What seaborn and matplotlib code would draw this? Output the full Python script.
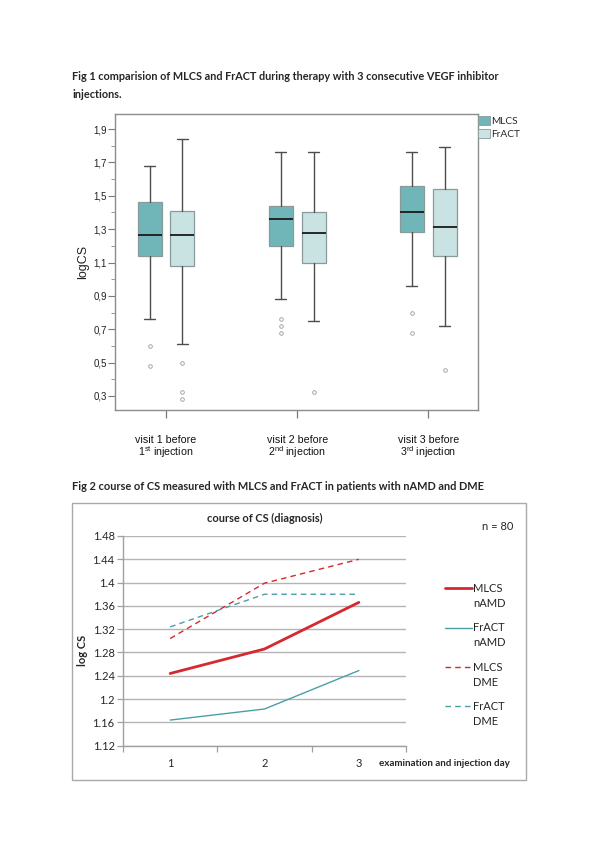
import numpy as np
import pandas as pd
import seaborn as sns
import matplotlib
matplotlib.use("Agg")
import matplotlib.pyplot as plt
from matplotlib.patches import Patch, Rectangle
from matplotlib.lines import Line2D
from matplotlib.legend_handler import HandlerLine2D
from matplotlib.ticker import FixedLocator, MultipleLocator

# ---- Fig 1 data: box statistics ----
visits = ["visit 1 before\n1$^{\\mathrm{st}}$ injection",
          "visit 2 before\n2$^{\\mathrm{nd}}$ injection",
          "visit 3 before\n3$^{\\mathrm{rd}}$ injection"]
mlcs_whislo = [0.76, 0.88, 0.96]
mlcs_q1 = [1.14, 1.20, 1.28]
mlcs_med = [1.265, 1.36, 1.40]
mlcs_q3 = [1.46, 1.44, 1.56]
mlcs_whishi = [1.68, 1.76, 1.76]
mlcs_fliers = [[0.48, 0.60], [0.68, 0.72, 0.76], [0.68, 0.80]]
fract_whislo = [0.61, 0.75, 0.72]
fract_q1 = [1.08, 1.095, 1.14]
fract_med = [1.265, 1.275, 1.31]
fract_q3 = [1.41, 1.405, 1.54]
fract_whishi = [1.84, 1.765, 1.795]
fract_fliers = [[0.28, 0.325, 0.50], [0.325], [0.455]]
fig1_yticks = [0.3, 0.5, 0.7, 0.9, 1.1, 1.3, 1.5, 1.7, 1.9]

# ---- Fig 2 data: mean log CS per day ----
days = [1, 2, 3]
mlcs_namd = [1.244, 1.286, 1.366]
fract_namd = [1.164, 1.183, 1.249]
mlcs_dme = [1.304, 1.399, 1.440]
fract_dme = [1.324, 1.380, 1.380]
fig2_yticks = [1.12, 1.16, 1.2, 1.24, 1.28, 1.32, 1.36, 1.4, 1.44, 1.48]

sns.set_theme(style="white")
plt.rcParams["font.family"] = ["Liberation Sans", "DejaVu Sans"]
plt.rcParams["mathtext.fontset"] = "custom"
plt.rcParams["mathtext.rm"] = "Liberation Sans"
plt.rcParams["mathtext.it"] = "Liberation Sans:italic"
plt.rcParams["mathtext.bf"] = "Liberation Sans:bold"

TITLE_FONT = ["Lato", "DejaVu Sans"]
MLCS_COL = "#70b6b9"
FRACT_COL = "#c9e3e2"
RED = "#d6282e"
TEAL = "#4a9fa7"

fig = plt.figure(figsize=(5.95, 8.41), dpi=100)
W, H = 595.0, 841.0


def fig_axes(left, top, right, bottom):
    return fig.add_axes([left / W, 1 - bottom / H, (right - left) / W, (bottom - top) / H])


# ================= Fig 1 =================
fig.text(72 / W, 1 - 77 / H,
         "Fig 1 comparision of MLCS and FrACT during therapy with 3 consecutive VEGF inhibitor",
         family=TITLE_FONT, weight="bold", fontsize=7.85, va="center", ha="left")
fig.text(72 / W, 1 - 95 / H, "injections.",
         family=TITLE_FONT, weight="bold", fontsize=7.85, va="center", ha="left")

ax1 = fig_axes(115, 114, 478, 410)


def make_stats(lo, q1, med, q3, hi, fl):
    return [dict(whislo=a, q1=b, med=c, q3=d, whishi=e, fliers=f)
            for a, b, c, d, e, f in zip(lo, q1, med, q3, hi, fl)]


centers = np.arange(len(visits))
for stats, offset, color in [
    (make_stats(mlcs_whislo, mlcs_q1, mlcs_med, mlcs_q3, mlcs_whishi, mlcs_fliers), -0.125, MLCS_COL),
    (make_stats(fract_whislo, fract_q1, fract_med, fract_q3, fract_whishi, fract_fliers), 0.125, FRACT_COL),
]:
    ax1.bxp(stats, positions=centers + offset, widths=0.183, capwidths=0.085,
            patch_artist=True, manage_ticks=False,
            boxprops=dict(facecolor=color, edgecolor="#8a9a9a", linewidth=0.9),
            medianprops=dict(color="#1a1a1a", linewidth=1.3),
            whiskerprops=dict(color="#4d4d4d", linewidth=1.0),
            capprops=dict(color="#4d4d4d", linewidth=1.0),
            flierprops=dict(marker="o", markersize=2.6, markerfacecolor="none",
                            markeredgecolor="#9a9a9a", markeredgewidth=0.6))

ax1.set_xlim(-0.39, 2.38)
ax1.set_ylim(0.216, 1.99)
ax1.set_xticks(centers)
ax1.set_xticklabels(visits, fontsize=7.7, linespacing=0.95)
ax1.yaxis.set_major_locator(FixedLocator(fig1_yticks))
ax1.set_yticklabels([f"{v:.1f}".replace(".", ",") for v in fig1_yticks], fontsize=7.0)
ax1.yaxis.set_minor_locator(MultipleLocator(0.1))
ax1.tick_params(axis="y", which="major", left=True, length=5, width=0.8, color="#7a7a7a",
                pad=1, labelcolor="#222222")
ax1.tick_params(axis="y", which="minor", left=True, length=3, width=0.7, color="#9a9a9a")
ax1.tick_params(axis="x", which="major", bottom=True, length=6, width=0.9, color="#7a7a7a",
                pad=12, labelcolor="#111111")
for s in ax1.spines.values():
    s.set_color("#8c8c8c")
    s.set_linewidth(1.0)
ax1.set_ylabel("logCS", fontsize=9, color="#222222")
ax1.yaxis.set_label_coords(-0.072, 0.5)

ax1.legend(handles=[Patch(facecolor=MLCS_COL, edgecolor="#8a9a9a", lw=0.6, label="MLCS"),
                    Patch(facecolor=FRACT_COL, edgecolor="#8a9a9a", lw=0.6, label="FrACT")],
           loc="upper left", bbox_to_anchor=(1.0, 0.992), frameon=False,
           prop=dict(family=TITLE_FONT, size=7.3),
           handlelength=1.15, handleheight=0.95, handletextpad=0.15, labelspacing=0.3,
           borderpad=0, borderaxespad=0)

# ================= Fig 2 =================
fig.text(72 / W, 1 - 486 / H,
         "Fig 2 course of CS measured with MLCS and FrACT in patients with nAMD and DME",
         family=TITLE_FONT, weight="bold", fontsize=7.9, va="center", ha="left")
fig.add_artist(Rectangle((72 / W, 1 - 780 / H), 454 / W, 277 / H, transform=fig.transFigure,
                         fill=False, edgecolor="#a9a9a9", linewidth=1.0))

ax2 = fig_axes(123, 536, 406, 745.7)
series = [
    ("MLCS\nnAMD", mlcs_namd, RED, 2.0, "-"),
    ("FrACT\nnAMD", fract_namd, TEAL, 1.0, "-"),
    ("MLCS\nDME", mlcs_dme, RED, 1.0, (0, (4, 3))),
    ("FrACT\nDME", fract_dme, TEAL, 1.0, (0, (4, 3))),
]
for label, vals, color, lw, ls in series:
    df = pd.DataFrame({"day": days, "logcs": vals})
    sns.lineplot(data=df, x="day", y="logcs", ax=ax2, color=color, linewidth=lw,
                 linestyle=ls, label=label)

ax2.set_xlim(0.5, 3.5)
ax2.set_ylim(1.12, 1.48)
ax2.set_xticks(days)
ax2.set_xticklabels([str(d) for d in days], family=TITLE_FONT, fontsize=8)
ax2.xaxis.set_minor_locator(FixedLocator([0.5, 1.5, 2.5, 3.5]))
ax2.tick_params(axis="x", which="major", length=0, pad=9)
ax2.tick_params(axis="x", which="minor", bottom=True, length=4, width=0.9, color="#a0a0a0")
ax2.yaxis.set_major_locator(FixedLocator(fig2_yticks))
ax2.set_yticklabels([f"{v:g}" for v in fig2_yticks], family=TITLE_FONT, fontsize=8)
ax2.tick_params(axis="y", left=True, length=4, width=0.9, color="#a0a0a0", pad=2)
ax2.yaxis.grid(True, color="#b4b4b4", linewidth=1.0)
ax2.xaxis.grid(False)
ax2.set_axisbelow(True)
for side in ["top", "right"]:
    ax2.spines[side].set_visible(False)
for side in ["left", "bottom"]:
    ax2.spines[side].set_color("#a0a0a0")
    ax2.spines[side].set_linewidth(1.0)
ax2.set_xlabel("")
ax2.set_ylabel("log CS", family=TITLE_FONT, weight="bold", fontsize=8)
ax2.yaxis.set_label_coords(-0.125, 0.456)
ax2.set_title("course of CS (diagnosis)", family=TITLE_FONT, weight="bold", fontsize=7.9,
              pad=10)

fig.text(379 / W, 1 - 764 / H, "examination and injection day", family=TITLE_FONT,
         weight="bold", fontsize=7.1, va="center", ha="left")
fig.text(498 / W, 1 - 527 / H, "n = 80", family=TITLE_FONT, fontsize=8, va="center",
         ha="center")


class UpperLineHandler(HandlerLine2D):
    # put the legend line at the height of the first label line
    def create_artists(self, legend, orig_handle, xdescent, ydescent, width, height,
                       fontsize, trans):
        arts = super().create_artists(legend, orig_handle, xdescent, ydescent, width,
                                      height, fontsize, trans)
        for a in arts:
            a.set_ydata(np.asarray(a.get_ydata()) + 0.75 * fontsize)
        return arts


handles, labels = ax2.get_legend_handles_labels()
leg = fig.legend(handles, labels, loc="upper left", bbox_to_anchor=(445 / W, 1 - 583 / H),
                 frameon=False, prop=dict(family=TITLE_FONT, size=8), handlelength=2.45,
                 handletextpad=0.05, labelspacing=1.2, borderpad=0, borderaxespad=0,
                 handler_map={Line2D: UpperLineHandler()})
for t in leg.get_texts():
    t.set_linespacing(1.45)
ax2.get_legend().remove()

fig.savefig("out.png", dpi=100)
